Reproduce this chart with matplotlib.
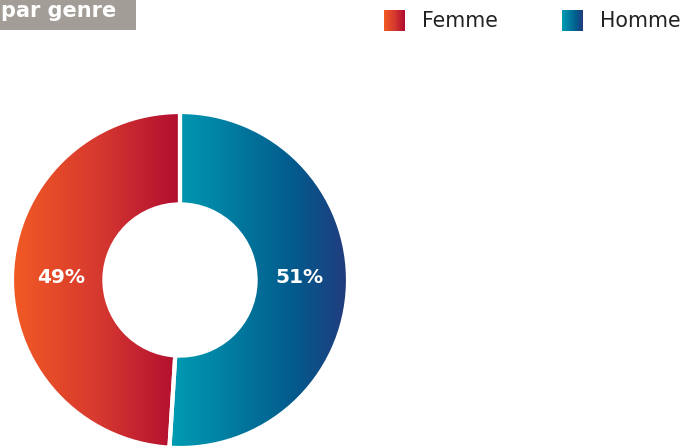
import numpy as np
import matplotlib.pyplot as plt
from matplotlib.colors import LinearSegmentedColormap
from matplotlib.patches import Rectangle

# données
genres = ['Homme', 'Femme']
parts = [51, 49]
titre = 'par genre'

# dégradés (gauche -> droite)
cmap_femme = LinearSegmentedColormap.from_list('femme', ['#F25A24', '#D6392F', '#B00C31'])
cmap_homme = LinearSegmentedColormap.from_list('homme', [(0, '#009CB3'), (0.7, '#035A8C'), (1, '#223B7E')])
cmaps = {'Homme': cmap_homme, 'Femme': cmap_femme}

W, H = 684, 446
fig = plt.figure(figsize=(W / 100, H / 100), dpi=100)

# axe en pixels pour le titre et la légende
ov = fig.add_axes([0, 0, 1, 1])
ov.set_xlim(0, W)
ov.set_ylim(H, 0)
ov.axis('off')

ov.add_patch(Rectangle((0, 0), 136, 30, color='#A29E97', lw=0))
ov.text(1, 17, titre, color='white', fontsize=15, fontweight='bold',
        ha='left', va='baseline')

grad = np.linspace(0, 1, 100).reshape(1, -1)
leg_x = {'Femme': 384, 'Homme': 562}
for g in ['Femme', 'Homme']:
    x0 = leg_x[g]
    ov.imshow(grad, cmap=cmaps[g], extent=(x0, x0 + 21, 31, 10), aspect='auto', zorder=2)
    ov.text(x0 + 38, 21, g, fontsize=14.8, color='#222222', va='center', ha='left')
ov.set_xlim(0, W)
ov.set_ylim(H, 0)

# anneau
cx, cy, r = 180, 280, 168
ax = fig.add_axes([(cx - r) / W, (H - cy - r) / H, 2 * r / W, 2 * r / H])
ax.set_xlim(-1, 1)
ax.set_ylim(-1, 1)
ax.axis('off')

wedges, _, autotexts = ax.pie(parts, startangle=90, counterclock=False, radius=1,
                              autopct=lambda p: f'{p:.0f}%', pctdistance=0.71,
                              wedgeprops=dict(width=0.55, facecolor='none',
                                              edgecolor='white', linewidth=3))
for w, g in zip(wedges, genres):
    if g == 'Homme':
        ext = (-0.06, 1, -1, 1)
    else:
        ext = (-1, 0.02, -1, 1)
    im = ax.imshow(grad, cmap=cmaps[g], extent=ext, aspect='auto', zorder=0.5)
    im.set_clip_path(w)
for t in autotexts:
    t.set_color('white')
    t.set_fontsize(14.5)
    t.set_fontweight('bold')
    t.set_zorder(3)
    # étiquettes à l'horizontale
    x, _ = t.get_position()
    t.set_position((x, 0.015))
ax.set_xlim(-1, 1)
ax.set_ylim(-1, 1)

fig.savefig('out.png', dpi=100)
